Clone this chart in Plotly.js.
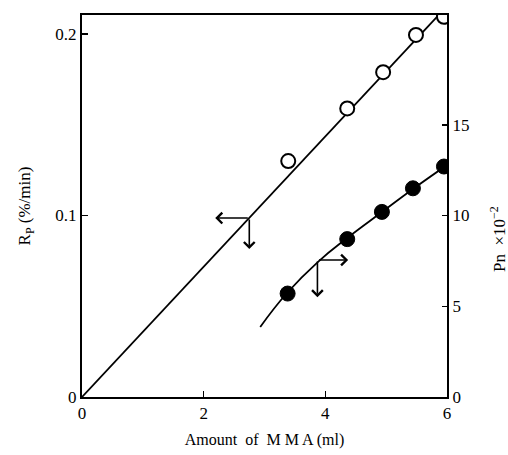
<!DOCTYPE html>
<html>
<head>
<meta charset="utf-8">
<script src="https://cdn.plot.ly/plotly-3.0.1.min.js"></script>
<style>html,body{margin:0;padding:0;background:#fff;}#chart{width:508px;height:455px;}</style>
</head>
<body>
<div id="chart"></div>
<script>
// Rp (%/min), open circles, left axis
var rpX = [3.39, 4.36, 4.95, 5.49, 5.95];
var rpY = [0.130, 0.159, 0.179, 0.1995, 0.2095];
// Rp fitted straight line
var rpLineX = [0, 6];
var rpLineY = [0, 0.2154];
// Pn x10^-2, filled circles, right axis
var pnX = [3.38, 4.36, 4.93, 5.44, 5.95];
var pnY = [5.7, 8.7, 10.2, 11.5, 12.7];
// Pn fitted curve
var pnCurveX = [2.93, 3.37, 3.88, 4.36, 4.93, 5.44, 6.0];
var pnCurveY = [3.86, 5.73, 7.45, 8.76, 10.19, 11.46, 12.78];
// ticks
var xTicks = [0, 2, 4, 6];
var yTicks = [0, 0.1, 0.2];
var yTickText = ['0', '0.1', '0.2'];
var y2Ticks = [0, 5, 10, 15];

var font = 'Liberation Serif, Times New Roman, serif';

var traces = [
  {x: rpLineX, y: rpLineY, mode: 'lines', line: {color: '#000', width: 1.8}, hoverinfo: 'skip'},
  {x: rpX, y: rpY, mode: 'markers', marker: {size: 14, color: '#fff', line: {color: '#000', width: 2}}},
  {x: pnCurveX, y: pnCurveY, yaxis: 'y2', mode: 'lines', line: {color: '#000', width: 1.8, shape: 'spline', smoothing: 1.3}, hoverinfo: 'skip'},
  {x: pnX, y: pnY, yaxis: 'y2', mode: 'markers', marker: {size: 15, color: '#000', line: {color: '#000', width: 1}}}
];

var arrowStyle = {showarrow: true, text: '', arrowhead: 4, arrowsize: 1.3, arrowwidth: 1.6, arrowcolor: '#000'};
function arrow(x, y, ax, ay, yref) {
  return Object.assign({x: x, y: y, ax: ax, ay: ay, xref: 'x', yref: yref, axref: 'x', ayref: yref}, arrowStyle);
}

var layout = {
  width: 508, height: 455,
  margin: {l: 82, r: 61, t: 15, b: 58},
  paper_bgcolor: '#fff', plot_bgcolor: '#fff',
  showlegend: false,
  font: {family: font, color: '#000', size: 16},
  xaxis: {
    range: [0, 6], tickvals: xTicks, ticks: 'inside', ticklen: 6, tickwidth: 1.5, tickcolor: '#000',
    showline: true, linewidth: 2, linecolor: '#000', mirror: true, showgrid: false, zeroline: false,
    tickfont: {family: font, size: 17},
    title: {text: 'Amount&nbsp; of&nbsp; M M A (ml)', font: {family: font, size: 16}, standoff: 11}
  },
  yaxis: {
    range: [0, 0.2105], tickvals: yTicks, ticktext: yTickText, ticks: 'inside', ticklen: 6, tickwidth: 1.5, tickcolor: '#000',
    showline: true, linewidth: 2, linecolor: '#000', mirror: true, showgrid: false, zeroline: false,
    tickfont: {family: font, size: 17},
    title: {text: 'R<sub>P</sub>&nbsp;(%/min)', font: {family: font, size: 17}, standoff: 20}
  },
  yaxis2: {
    overlaying: 'y', side: 'right', range: [0, 21.05], tickvals: y2Ticks, ticks: 'inside', ticklen: 5, tickwidth: 1.5, tickcolor: '#000',
    showline: true, linewidth: 2, linecolor: '#000', showgrid: false, zeroline: false,
    tickfont: {family: font, size: 17}
  },
  annotations: [
    arrow(2.19, 0.0986, 2.75, 0.0986, 'y'),
    arrow(2.75, 0.0815, 2.75, 0.0986, 'y'),
    arrow(4.375, 7.55, 3.87, 7.55, 'y2'),
    arrow(3.87, 5.5, 3.87, 7.55, 'y2'),
    {text: 'Pn&nbsp;&nbsp;×10<sup>−2</sup>', xref: 'paper', yref: 'paper', x: 1.14, y: 0.414, textangle: -90,
     showarrow: false, xanchor: 'center', yanchor: 'middle', font: {family: font, size: 17, color: '#000'}}
  ]
};

Plotly.newPlot('chart', traces, layout, {displayModeBar: false, staticPlot: true});
</script>
</body>
</html>
